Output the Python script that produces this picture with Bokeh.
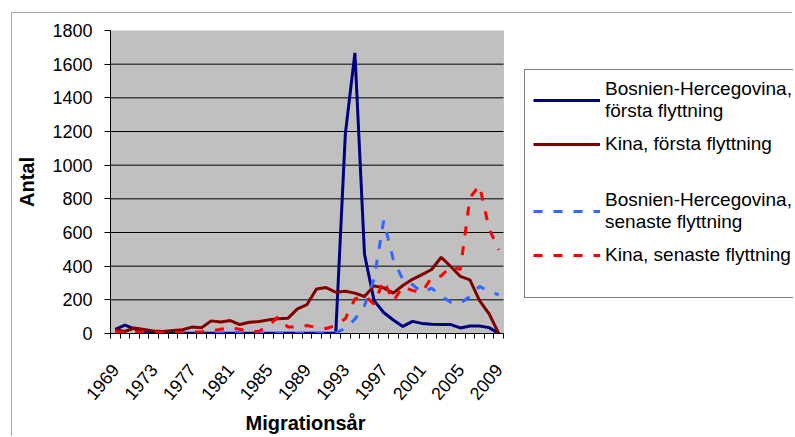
import math
from bokeh.plotting import figure
from bokeh.models import (Range1d, FixedTicker, Legend, LegendItem, ColumnDataSource,
                          BoxAnnotation, Title)
from bokeh.embed import file_html
from bokeh.resources import INLINE

# ---------------- data ----------------
years = list(range(1969, 2010))
tick_years = list(range(1969, 2010, 4))
y_ticks = list(range(0, 1801, 200))

bosnien_forsta = [24, 50, 28, 12, 5, 3, 2, 2, 2, 1, 2, 2, 1, 2, 1, 2, 1, 2, 1, 2,
                  1, 2, 2, 3, 1186, 1667, 470, 195, 125, 80, 42, 72, 60, 55, 53, 53,
                  33, 45, 45, 35, 0]
kina_forsta = [22, 12, 33, 24, 15, 12, 18, 22, 38, 34, 75, 68, 77, 53, 67, 71, 81, 87,
               90, 146, 172, 265, 273, 245, 251, 240, 220, 283, 271, 240, 285, 322,
               350, 380, 453, 398, 339, 319, 196, 117, 0]
bosnien_senaste = [0, 0, 0, 0, 0, 0, 3, 5, 2, 0, 0, 3, 12, 5, 0, 0, 0, 2, 2, 0,
                   0, 2, 2, 5, 30, 85, 166, 325, 670, 440, 320, 290, 245, 270, 222,
                   186, 180, 220, 280, 250, 230]
kina_senaste = [12, 5, 10, 10, 8, 5, 8, 5, 8, 10, 15, 25, 35, 25, 10, 14, 45, 100,
                38, 38, 48, 35, 30, 48, 88, 205, 225, 175, 315, 192, 280, 255, 245,
                333, 342, 398, 380, 808, 879, 622, 497]

labels = ["Bosnien-Hercegovina,\nf\u00f6rsta flyttning",
          "Kina, f\u00f6rsta flyttning",
          "Bosnien-Hercegovina,\nsenaste flyttning",
          "Kina, senaste flyttning"]
x_title = "Migrations\u00e5r"
y_title = "Antal"

FONT = "Liberation Sans"

# layout (pixels)
W, H = 781, 424
LEFT, TOP, BOTTOM = 98, 17, 104
AREA_W = 393            # width of the grey plotting area
FRAME_W = W - LEFT      # frame reaches to the right edge (room for legend)

x0 = years[0] - 0.5
x1 = years[-1] + 0.5
x_end = x0 + (x1 - x0) * FRAME_W / AREA_W

src = ColumnDataSource(dict(year=years, bf=bosnien_forsta, kf=kina_forsta,
                            bs=bosnien_senaste, ks=kina_senaste))

p = figure(width=W, height=H, output_backend="svg", toolbar_location=None,
           x_range=Range1d(x0, x_end), y_range=Range1d(y_ticks[0], y_ticks[-1]),
           min_border_left=LEFT, min_border_right=0,
           min_border_top=TOP, min_border_bottom=BOTTOM)
p.margin = (12, 0, 0, 11)
p.styles = {"border-left": "1px solid #A6A6A6", "border-top": "1px solid #A6A6A6"}

p.background_fill_color = "white"
p.border_fill_color = "white"
p.outline_line_color = None
p.xgrid.visible = False
p.ygrid.visible = False

# grey plotting area with border
area = BoxAnnotation(left=x0, right=x1, bottom=y_ticks[0], top=y_ticks[-1],
                     fill_color="#C0C0C0", fill_alpha=1,
                     line_color="#808080", line_width=1, level="underlay")
p.add_layout(area)

# horizontal gridlines
grid_vals = y_ticks[1:-1]
p.segment(x0=[x0] * len(grid_vals), x1=[x1] * len(grid_vals),
          y0=grid_vals, y1=grid_vals, line_color="black", line_width=1)

# x axis
xa = p.xaxis[0]
xa.bounds = (x0, x1)
xa.ticker = FixedTicker(ticks=tick_years,
                        minor_ticks=[y - 0.5 for y in years] + [x1])
xa.major_tick_out = 0
xa.major_tick_in = 0
xa.minor_tick_out = 5
xa.minor_tick_in = 0
xa.minor_tick_line_color = "black"
xa.axis_line_color = "black"
xa.major_label_orientation = math.radians(50)
xa.major_label_text_font = FONT
xa.major_label_text_font_size = "18px"
xa.major_label_text_color = "black"
xa.major_label_standoff = 28

# x title, centred under the grey plotting area
xt = Title(text=x_title, align="left", offset=135, standoff=2,
           text_font=FONT, text_font_size="20px", text_font_style="bold",
           text_color="black")
p.add_layout(xt, "below")

# y axis
ya = p.yaxis[0]
ya.ticker = FixedTicker(ticks=y_ticks)
ya.major_tick_out = 6
ya.major_tick_in = 0
ya.minor_tick_out = 0
ya.minor_tick_in = 0
ya.axis_line_color = "black"
ya.major_tick_line_color = "black"
ya.major_label_text_font = FONT
ya.major_label_text_font_size = "18px"
ya.major_label_text_color = "black"
ya.major_label_standoff = 12
ya.axis_label = y_title
ya.axis_label_text_font = FONT
ya.axis_label_text_font_size = "20px"
ya.axis_label_text_font_style = "bold"
ya.axis_label_text_color = "black"
ya.axis_label_standoff = 11

# lines
r1 = p.line("year", "bf", source=src, line_color="#000080", line_width=3)
r2 = p.line("year", "kf", source=src, line_color="#800000", line_width=3)
r3 = p.line("year", "bs", source=src, line_color="#3366FF", line_width=3,
            line_dash="9 11")
r4 = p.line("year", "ks", source=src, line_color="#FF0000", line_width=3,
            line_dash="9 11")
blank = p.line(x=[], y=[], line_alpha=0)

legend = Legend(items=[
    LegendItem(label=labels[0], renderers=[r1]),
    LegendItem(label=labels[1], renderers=[r2]),
    LegendItem(label=" ", renderers=[blank]),
    LegendItem(label=labels[2], renderers=[r3]),
    LegendItem(label=labels[3], renderers=[r4]),
    LegendItem(label=" ", renderers=[blank]),
], location=(AREA_W + 21, 35))
legend.border_line_color = "black"
legend.border_line_width = 1
legend.background_fill_color = "white"
legend.background_fill_alpha = 1
legend.padding = 8
legend.spacing = 11
legend.margin = 0
legend.glyph_width = 67
legend.glyph_height = 12
legend.label_height = 12
legend.label_standoff = 5
legend.label_text_font = FONT
legend.label_text_font_size = "19px"
legend.label_text_line_height = 1.3
legend.label_text_color = "black"
p.add_layout(legend, "center")

open("out.html", "w").write(file_html(p, INLINE))
